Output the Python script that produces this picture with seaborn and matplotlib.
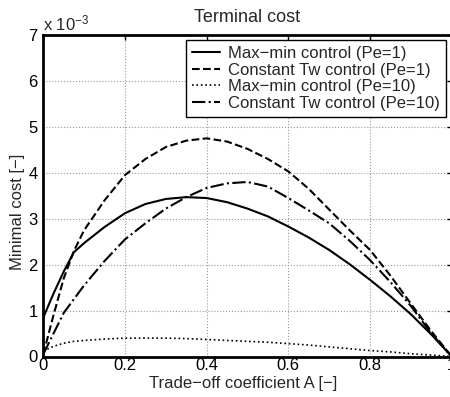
import numpy as np
import pandas as pd
import matplotlib
matplotlib.use("Agg")
import matplotlib.pyplot as plt
import seaborn as sns

# ---- data (cost values in units of 1e-3) ----
A = [0, 0.025, 0.05, 0.075, 0.1, 0.15, 0.2, 0.25, 0.3, 0.35, 0.4, 0.45,
     0.5, 0.55, 0.6, 0.65, 0.7, 0.75, 0.8, 0.85, 0.9, 0.95, 1.0]
maxmin_pe1 = [0.85, 1.37, 1.85, 2.27, 2.47, 2.82, 3.12, 3.32, 3.43, 3.47, 3.45, 3.36,
              3.22, 3.05, 2.83, 2.59, 2.32, 2.01, 1.67, 1.31, 0.92, 0.48, 0.0]
const_pe1 = [0.05, 0.9, 1.7, 2.3, 2.75, 3.4, 3.95, 4.3, 4.56, 4.7, 4.75, 4.68,
             4.52, 4.3, 4.03, 3.65, 3.2, 2.75, 2.32, 1.76, 1.15, 0.55, 0.0]
maxmin_pe10 = [0.12, 0.22, 0.29, 0.33, 0.35, 0.38, 0.40, 0.40, 0.40, 0.39, 0.37, 0.35,
               0.33, 0.31, 0.28, 0.25, 0.21, 0.17, 0.13, 0.10, 0.06, 0.03, 0.0]
const_pe10 = [0.05, 0.5, 0.95, 1.25, 1.55, 2.08, 2.55, 2.9, 3.22, 3.47, 3.67, 3.77,
              3.8, 3.7, 3.45, 3.18, 2.9, 2.52, 2.1, 1.62, 1.1, 0.5, 0.0]

labels = ["Max\u2212min control (Pe=1)", "Constant Tw control (Pe=1)",
          "Max\u2212min control (Pe=10)", "Constant Tw control (Pe=10)"]
series = [maxmin_pe1, const_pe1, maxmin_pe10, const_pe10]
styles = ["-", "--", ":", "-."]
widths = [1.5, 1.5, 1.2, 1.5]

xticks = [0, 0.2, 0.4, 0.6, 0.8, 1]
xticklabels = ["0", "0.2", "0.4", "0.6", "0.8", "1"]
yticks = [0, 1, 2, 3, 4, 5, 6, 7]

sns.set_style("white")
plt.rcParams['font.family'] = ['Liberation Sans', 'DejaVu Sans']
plt.rcParams['mathtext.fontset'] = 'custom'
plt.rcParams['mathtext.rm'] = 'Liberation Sans'
plt.rcParams['mathtext.it'] = 'Liberation Sans'

FS = 12
fig = plt.figure(figsize=(4.5, 3.97), dpi=100)
L, R, T, B = 43.3, 451.7, 35.0, 356.5
ax = fig.add_axes([L / 450, 1 - B / 397, (R - L) / 450, (B - T) / 397])

for vals, lab, ls, lw in zip(series, labels, styles, widths):
    df = pd.DataFrame({"A": A, "cost": vals})
    sns.lineplot(data=df, x="A", y="cost", ax=ax, color="black", linestyle=ls,
                 linewidth=lw, label=lab, estimator=None, sort=False)

ax.set_xlim(0, 1)
ax.set_ylim(0, 7)
ax.set_xticks(xticks)
ax.set_xticklabels(xticklabels)
ax.set_yticks(yticks)
ax.grid(True, color="0.6", linestyle=":", linewidth=0.8)
ax.tick_params(direction="in", length=3.5, width=1, top=True, right=True,
               labelsize=FS, colors="black")
ax.tick_params(axis="x", pad=1)
ax.tick_params(axis="y", pad=4)
for s in ax.spines.values():
    s.set_visible(True)
    s.set_color("black")
    s.set_linewidth(2.0)

ax.set_xlabel("Trade\u2212off coefficient A [\u2212]", fontsize=FS, labelpad=1)
ax.set_ylabel("Minimal cost [\u2212]", fontsize=FS, labelpad=2)
ax.xaxis.set_label_coords(0.49, -0.062)
ax.yaxis.set_label_coords(-0.045, 0.45)
ax.set_title("Terminal cost", fontsize=13, pad=9)

fig.text(42.7 / 450, 1 - 30.7 / 397, "x 10$^{\u22123}$", fontsize=FS, ha="left", va="baseline")

leg = ax.legend(loc="upper right", bbox_to_anchor=(446 / 450, 1 - 40 / 397),
                bbox_transform=fig.transFigure, fancybox=False, frameon=True,
                edgecolor="black", fontsize=FS, labelspacing=0.1,
                handlelength=1.7, handletextpad=0.5, borderpad=0.35,
                borderaxespad=0)
leg.get_frame().set_linewidth(1.0)
leg.get_frame().set_alpha(1)

fig.savefig("out.png", dpi=100)
